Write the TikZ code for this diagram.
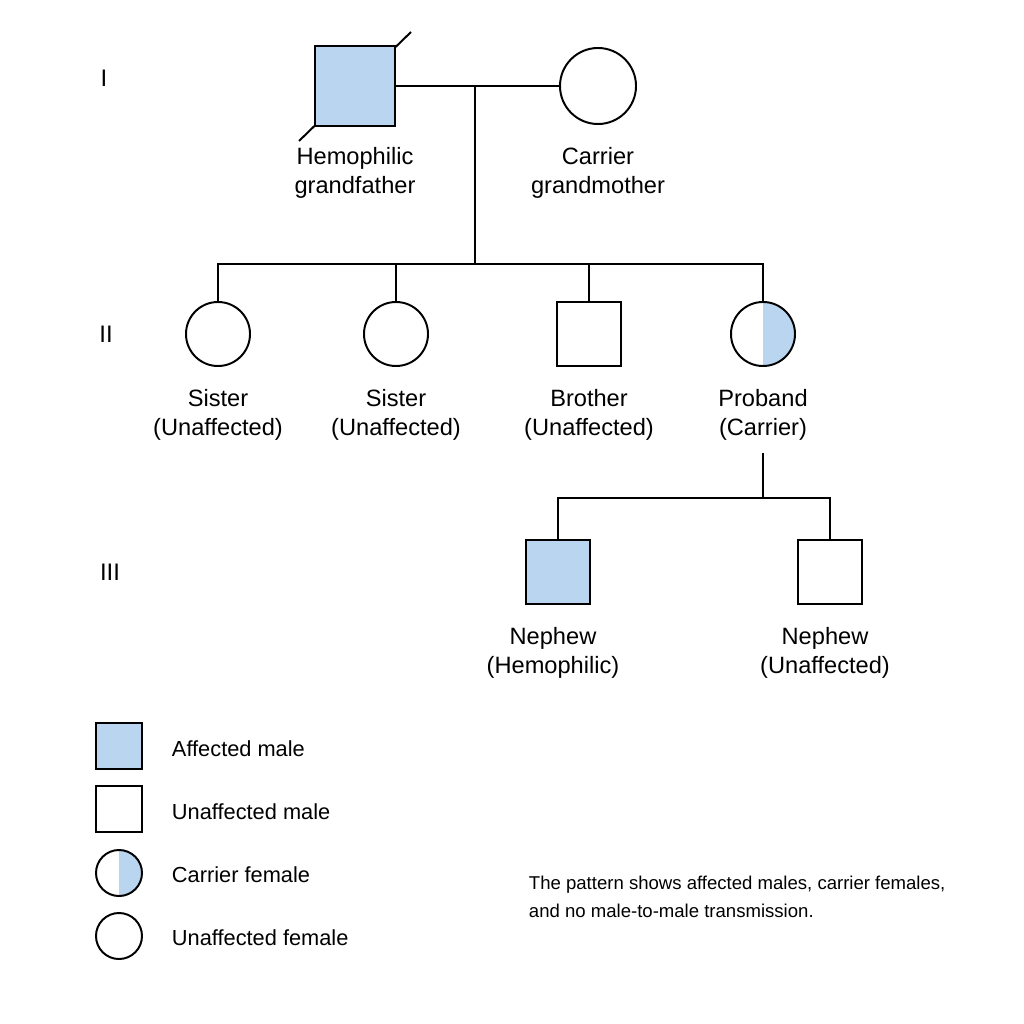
\documentclass[tikz,border=0pt]{standalone}
\usepackage{fontspec}
\setmainfont{Liberation Sans}
\definecolor{affblue}{RGB}{186,213,239}
\tikzset{
  male/.style={draw, line width=1.4pt, rectangle, minimum size=#1, inner sep=0pt},
  female/.style={draw, line width=1.4pt, circle, minimum size=#1, inner sep=0pt},
  affected/.style={fill=affblue},
  carrier/.style={path picture={\fill[affblue] (path picture bounding box.south) rectangle (path picture bounding box.north east);}},
  link/.style={line width=1.4pt},
  lbl/.style={align=center, font=\fontsize{16.8}{20.6}\selectfont},
  genlbl/.style={font=\fontsize{17}{20}\selectfont},
  keytxt/.style={anchor=west, font=\fontsize{15.5}{19}\selectfont}
}
\begin{document}
\begin{tikzpicture}[x=0.025cm, y=-0.025cm]
    \useasboundingbox (0,0) rectangle (1024,1024);
    % generations
    \node[genlbl] (gen1) at (104,78) {I};
    \node[genlbl] (gen2) at (106,334) {II};
    \node[genlbl] (gen3) at (110,572) {III};
    % generation I
    \draw[link] (299,141) -- (411,32);
    \node[male=2cm, affected] (gf) at (355,86) {};
    \node[female=1.9cm] (gm) at (598,86) {};
    \node[lbl] (gflbl) at (355,173) {Hemophilic\\grandfather};
    \node[lbl] (gmlbl) at (598,173) {Carrier\\grandmother};
    \draw[link] (gf.east) -- (gm.west);
    \coordinate (mate1) at (475,86);
    \coordinate (sib1) at (475,264);
    \draw[link] (mate1) -- (sib1);
    % generation II
    \node[female=1.6cm] (sis1) at (218,334) {};
    \node[female=1.6cm] (sis2) at (396,334) {};
    \node[male=1.6cm] (bro) at (589,334) {};
    \node[female=1.6cm, carrier] (pb) at (763,334) {};
    \node[lbl] (sis1lbl) at (218,415) {Sister\\(Unaffected)};
    \node[lbl] (sis2lbl) at (396,415) {Sister\\(Unaffected)};
    \node[lbl] (brolbl) at (589,415) {Brother\\(Unaffected)};
    \node[lbl] (pblbl) at (763,415) {Proband\\(Carrier)};
    \draw[link] (sis1.north) |- (pb.north |- sib1) -- (pb.north);
    \draw[link] (sis2.north) -- (sis2.north |- sib1);
    \draw[link] (bro.north) -- (bro.north |- sib1);
    % generation III
    \coordinate (pbdown) at (763,453);
    \coordinate (sib2) at (763,498);
    \draw[link] (pbdown) -- (sib2);
    \node[male=1.6cm, affected] (nep1) at (558,572) {};
    \node[male=1.6cm] (nep2) at (830,572) {};
    \node[lbl] (nep1lbl) at (553,653) {Nephew\\(Hemophilic)};
    \node[lbl] (nep2lbl) at (825,653) {Nephew\\(Unaffected)};
    \draw[link] (nep1.north) |- (nep2.north |- sib2) -- (nep2.north);
    % key
    \node[male=1.15cm, affected] (keyam) at (119,746) {};
    \node[male=1.15cm] (keyum) at (119,809) {};
    \node[female=1.15cm, carrier] (keycf) at (119,873) {};
    \node[female=1.15cm] (keyuf) at (119,936) {};
    \node[keytxt] (keyamtxt) at (167,749) {Affected male};
    \node[keytxt] (keyumtxt) at (167,812) {Unaffected male};
    \node[keytxt] (keycftxt) at (167,875) {Carrier female};
    \node[keytxt] (keyuftxt) at (167,938) {Unaffected female};
    \node[anchor=west, align=left, font=\fontsize{13.2}{20}\selectfont] (note) at (524,897) {The pattern shows affected males, carrier females,\\and no male-to-male transmission.};
\end{tikzpicture}
\end{document}
